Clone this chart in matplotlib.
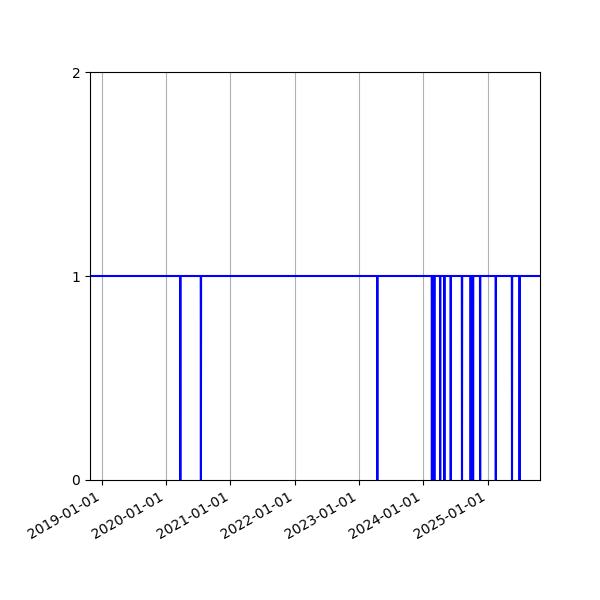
import matplotlib
matplotlib.use("Agg")
import matplotlib.pyplot as plt
import matplotlib.dates as mdates
import pandas as pd

# range of the daily status series
start_date = "2018-10-26"
end_date = "2025-10-25"

# days where the status dropped to 0
down_days = ["2020-03-22", "2020-07-17", "2023-04-15",
             "2024-02-19", "2024-03-04", "2024-04-06", "2024-04-30",
             "2024-06-05", "2024-08-08", "2024-09-26", "2024-10-10",
             "2024-11-19", "2025-02-16", "2025-05-19", "2025-07-01"]

status = pd.Series(1, index=pd.date_range(start_date, end_date, freq="D"))
status[pd.to_datetime(down_days)] = 0

fig, ax = plt.subplots(figsize=(6, 6), dpi=100)
ax.plot(status.index, status.values, color="blue", linewidth=1.5)

ax.set_ylim(0, 2)
ax.set_yticks([0, 1, 2])
ax.set_xlim(status.index[0], status.index[-1])
ax.xaxis.set_major_locator(mdates.YearLocator())
ax.xaxis.set_major_formatter(mdates.DateFormatter("%Y-%m-%d"))
ax.grid(axis="x")

fig.autofmt_xdate()
fig.subplots_adjust(left=0.15, right=0.9, top=0.88, bottom=0.2)
fig.savefig("out.png")
